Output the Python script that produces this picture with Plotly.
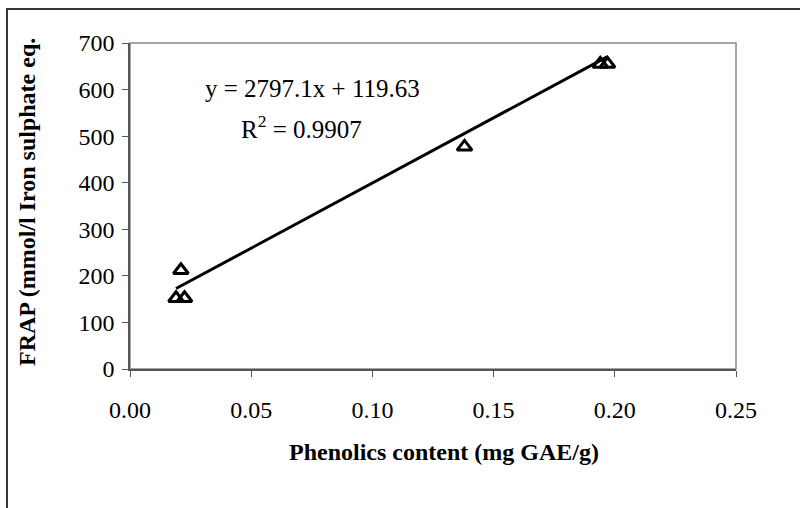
import plotly.graph_objects as go

# Data
phenolics = [0.019, 0.0225, 0.021, 0.138, 0.194, 0.197]
frap = [152, 152, 212, 477, 655, 655]

slope = 2797.1
intercept = 119.63
r2 = 0.9907

x_ticks = [0.00, 0.05, 0.10, 0.15, 0.20, 0.25]
x_tick_text = ["0.00", "0.05", "0.10", "0.15", "0.20", "0.25"]
y_ticks = [0, 100, 200, 300, 400, 500, 600, 700]

FONT = "Liberation Serif, Times New Roman, serif"

xmin, xmax = min(phenolics), max(phenolics)
trend_x = [xmin, xmax]
trend_y = [slope * v + intercept for v in trend_x]

fig = go.Figure()
fig.add_trace(go.Scatter(
    x=trend_x, y=trend_y, mode="lines",
    line=dict(color="black", width=3), showlegend=False, hoverinfo="skip"))
fig.add_trace(go.Scatter(
    x=phenolics, y=frap, mode="markers",
    marker=dict(symbol="triangle-up-open", size=13, color="black",
                line=dict(color="black", width=3)),
    showlegend=False))

fig.update_layout(
    width=800, height=508,
    margin=dict(l=130, r=64, t=43, b=139),
    paper_bgcolor="white", plot_bgcolor="white",
    font=dict(family=FONT, size=23, color="black"),
    xaxis=dict(range=[0, 0.25], tickvals=x_ticks, ticktext=x_tick_text,
               showgrid=False, zeroline=False, showline=True,
               linecolor="#555", linewidth=1.5, mirror=False,
               ticks="outside", ticklen=6, tickcolor="#555",
               ticklabelstandoff=12,
               tickfont=dict(family=FONT, size=24)),
    yaxis=dict(range=[0, 700], tickvals=y_ticks,
               showgrid=False, zeroline=False, showline=True,
               linecolor="#555", linewidth=1.5,
               ticks="outside", ticklen=6, tickcolor="#555",
               ticklabelstandoff=3,
               tickfont=dict(family=FONT, size=24)),
)

# plot-area top/right border
fig.add_shape(type="rect", xref="paper", yref="paper", x0=0, y0=0, x1=1, y1=1,
              line=dict(color="#888", width=1.5), layer="below")
# outer frame
fig.add_shape(type="rect", xref="paper", yref="paper",
              x0=-0.203, y0=-0.6, x1=1.2, y1=1.104,
              line=dict(color="#333", width=2))

fig.add_annotation(x=(27 - 130) / 606, y=(369 - 202) / 326, xref="paper", yref="paper",
                   xanchor="center", yanchor="middle",
                   text="<b>FRAP (mmol/l Iron sulphate eq.</b>", showarrow=False,
                   textangle=-90, font=dict(family=FONT, size=24))
fig.add_annotation(x=(444 - 130) / 606, y=(369 - 452) / 326, xref="paper", yref="paper",
                   xanchor="center", yanchor="middle",
                   text="<b>Phenolics content (mg GAE/g)</b>", showarrow=False,
                   font=dict(family=FONT, size=24))
fig.add_annotation(x=(312 - 130) / 606 * 0.25, y=(369 - 88) / 326 * 700, xref="x", yref="y",
                   xanchor="center", yanchor="middle",
                   text="y = %.1fx + %.2f" % (slope, intercept), showarrow=False,
                   font=dict(family=FONT, size=25))
fig.add_annotation(x=(301 - 130) / 606 * 0.25, y=(369 - 127) / 326 * 700, xref="x", yref="y",
                   xanchor="center", yanchor="middle",
                   text="R<sup>2</sup> = %.4f" % r2, showarrow=False,
                   font=dict(family=FONT, size=25))

fig.write_html("out.html")
